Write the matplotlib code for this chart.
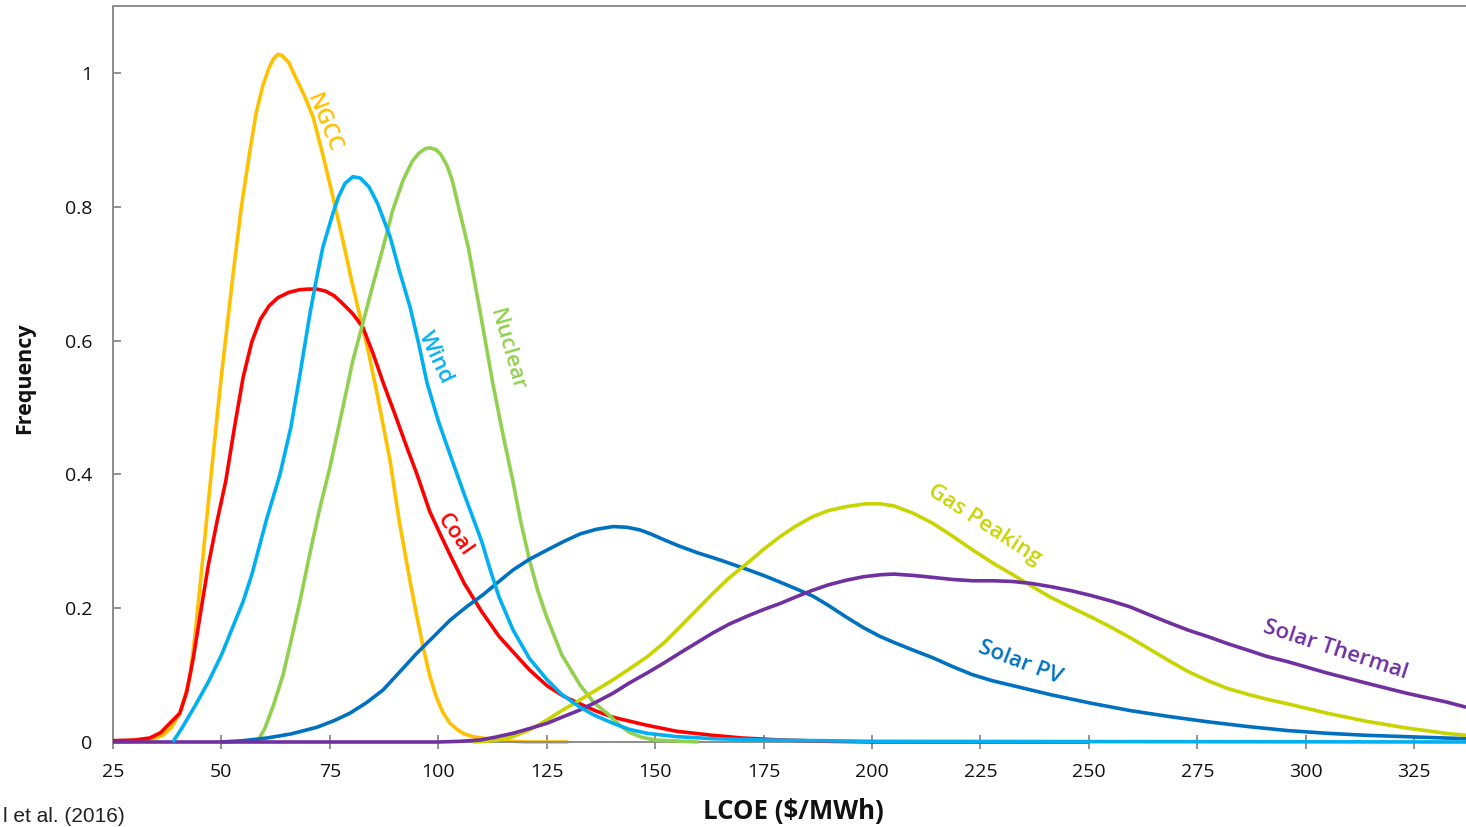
import matplotlib
matplotlib.use("Agg")
import matplotlib.pyplot as plt

# ---------------- data ----------------
ngcc_x = [25, 30, 34, 36.5, 38.5, 40.4, 41.6, 42.8, 44, 45.1, 47.4, 49.7, 52.7, 54.6, 56.6, 58, 59.5,
          61, 62, 63, 64, 65.5, 67, 69, 71.1, 73.5, 75.7, 78, 80, 82, 84, 85.9, 88.9, 91, 93.5, 95,
          96.5, 98, 99.5, 101, 102.7, 104.5, 106, 108, 110, 115, 120, 130]
ngcc_y = [0.0, 0.001, 0.004, 0.010, 0.022, 0.043, 0.068, 0.10, 0.165, 0.235, 0.385, 0.53, 0.70, 0.80,
          0.885, 0.94, 0.98, 1.008, 1.021, 1.028, 1.026, 1.016, 0.995, 0.968, 0.935, 0.875, 0.815,
          0.75, 0.69, 0.635, 0.58, 0.52, 0.42, 0.33, 0.24, 0.19, 0.142, 0.100, 0.068, 0.045, 0.028,
          0.018, 0.012, 0.008, 0.006, 0.002, 0.0, 0.0]

coal_x = [25, 30, 33.5, 36, 38.1, 40.4, 42, 43.5, 45.1, 47, 49, 51, 53, 55, 57, 59, 61, 63, 65.5, 68,
          70, 72, 74, 76, 78, 80.3, 82.6, 85, 87.3, 90, 92.5, 95.1, 98, 100.5, 102.7, 106, 110, 114,
          117.2, 121, 125.1, 129, 132.7, 136.5, 140.3, 148.1, 155, 163.3, 170, 178.8, 190, 200, 250]
coal_y = [0.002, 0.003, 0.006, 0.014, 0.028, 0.043, 0.075, 0.125, 0.19, 0.265, 0.33, 0.39, 0.47, 0.545,
          0.598, 0.632, 0.652, 0.664, 0.672, 0.676, 0.677, 0.677, 0.674, 0.667, 0.655, 0.64, 0.62, 0.58,
          0.537, 0.49, 0.445, 0.40, 0.345, 0.31, 0.28, 0.237, 0.195, 0.158, 0.135, 0.108, 0.084, 0.068,
          0.057, 0.046, 0.037, 0.025, 0.016, 0.010, 0.006, 0.003, 0.001, 0.0, 0.0]

wind_x = [38.8, 41, 44, 47, 50, 53, 55, 57, 60.5, 63.5, 66, 68, 70.4, 72, 73.4, 75.7, 77, 78.5, 80.3,
          82, 84, 86, 88.9, 91, 93.5, 95.5, 97.4, 100, 102.7, 106, 110, 112, 114, 117.2, 121, 125.1,
          128.5, 132.7, 136, 140.3, 144, 148.1, 155, 163.3, 175, 200, 337]
wind_y = [0.0, 0.022, 0.055, 0.09, 0.13, 0.178, 0.21, 0.25, 0.335, 0.40, 0.47, 0.545, 0.64, 0.695, 0.74,
          0.79, 0.815, 0.835, 0.845, 0.843, 0.83, 0.805, 0.755, 0.705, 0.65, 0.595, 0.537, 0.48, 0.43,
          0.37, 0.30, 0.257, 0.217, 0.168, 0.125, 0.093, 0.071, 0.052, 0.04, 0.028, 0.019, 0.013,
          0.008, 0.005, 0.003, 0.001, 0.0]

nuclear_x = [58.2, 60, 62, 64.2, 66, 68.1, 70.5, 72.7, 75, 78, 80.3, 82.6, 85, 87.3, 89.5, 91.9, 94,
             95.5, 97, 98.1, 99.3, 100.5, 102, 103.2, 104.3, 106.9, 109.6, 112.6, 114.9, 117.2, 119,
             121.1, 123, 125.1, 128.5, 132.7, 136, 138.9, 142, 144.2, 147, 150, 160]
nuclear_y = [0.0, 0.02, 0.055, 0.10, 0.15, 0.21, 0.285, 0.35, 0.41, 0.50, 0.57, 0.626, 0.685, 0.74,
             0.795, 0.84, 0.868, 0.88, 0.887, 0.888, 0.886, 0.879, 0.862, 0.84, 0.81, 0.74, 0.645,
             0.535, 0.46, 0.39, 0.33, 0.27, 0.225, 0.185, 0.13, 0.085, 0.058, 0.043, 0.024, 0.014,
             0.007, 0.003, 0.0]

pv_x = [50, 55, 60.5, 66, 72, 76, 79.6, 83.5, 87.3, 91, 95.1, 99, 102.7, 106.5, 110.3, 114, 117.2,
        121, 125.1, 129, 132.7, 136.5, 140.3, 143.5, 146.5, 149, 151.8, 155.5, 159.7, 165, 171.2, 175,
        178.8, 182.5, 186.4, 190, 194, 198, 201.8, 205, 210, 214, 218.5, 223, 227.5, 232, 236.5, 241,
        250.5, 259.5, 268.6, 277.7, 286.8, 296, 305, 314, 323, 332, 337]
pv_y = [0.0, 0.002, 0.006, 0.012, 0.022, 0.032, 0.043, 0.059, 0.078, 0.104, 0.133, 0.158, 0.182, 0.202,
        0.22, 0.24, 0.257, 0.273, 0.287, 0.300, 0.311, 0.318, 0.322, 0.321, 0.317, 0.311, 0.303, 0.293,
        0.283, 0.272, 0.258, 0.249, 0.239, 0.229, 0.218, 0.204, 0.187, 0.171, 0.158, 0.149, 0.136,
        0.126, 0.113, 0.101, 0.092, 0.085, 0.078, 0.071, 0.058, 0.047, 0.038, 0.030, 0.023, 0.017,
        0.013, 0.010, 0.008, 0.006, 0.005]

gas_x = [108, 111, 114, 117.2, 121, 125.1, 128.5, 132.7, 136.5, 140.3, 144, 148.1, 152, 155.7, 159.5,
         163.3, 167, 171.2, 175, 178.8, 182.5, 186.4, 190, 194.2, 198.5, 202, 205, 209.5, 214, 218.5,
         223, 228, 232.5, 236.8, 241, 246.3, 250.5, 255, 259.5, 264, 268.6, 273, 277.7, 282, 286.8,
         291, 295.9, 305, 314, 323.2, 332.3, 337]
gas_y = [0.0, 0.001, 0.003, 0.008, 0.018, 0.033, 0.047, 0.063, 0.078, 0.093, 0.109, 0.127, 0.148,
         0.172, 0.197, 0.222, 0.245, 0.267, 0.288, 0.307, 0.323, 0.337, 0.346, 0.352, 0.356, 0.356,
         0.353, 0.342, 0.327, 0.308, 0.288, 0.267, 0.25, 0.233, 0.217, 0.2, 0.187, 0.172, 0.156,
         0.139, 0.121, 0.105, 0.091, 0.080, 0.071, 0.064, 0.057, 0.043, 0.031, 0.021, 0.013, 0.010]

thermal_x = [25, 100, 105, 109.6, 113, 117.2, 121, 125.1, 128.5, 132.7, 136.5, 140.3, 144, 148.1, 152,
             155.7, 159.5, 163.3, 167, 171.2, 175, 178.8, 182.5, 186.4, 190, 194.2, 198, 202, 205,
             209.5, 214.1, 218.5, 223.2, 228, 232.3, 236.8, 241.4, 246, 250.5, 255, 259.5, 264, 268.6,
             273, 277.7, 282, 286.8, 291, 295.9, 305, 314, 323.2, 332.3, 337]
thermal_y = [0.0, 0.0, 0.001, 0.003, 0.007, 0.013, 0.02, 0.028, 0.037, 0.048, 0.06, 0.073, 0.088,
             0.103, 0.118, 0.133, 0.148, 0.163, 0.176, 0.188, 0.198, 0.207, 0.217, 0.227, 0.235,
             0.242, 0.247, 0.25, 0.251, 0.249, 0.246, 0.243, 0.241, 0.241, 0.240, 0.237, 0.232,
             0.226, 0.219, 0.211, 0.202, 0.19, 0.178, 0.167, 0.157, 0.147, 0.137, 0.128, 0.12, 0.103,
             0.088, 0.073, 0.060, 0.052]

x_ticks = [25, 50, 75, 100, 125, 150, 175, 200, 225, 250, 275, 300, 325]
y_ticks = [0, 0.2, 0.4, 0.6, 0.8, 1.0]
y_tick_labels = ["0", "0.2", "0.4", "0.6", "0.8", "1"]

# ---------------- figure ----------------
W, H = 1466, 827
fig = plt.figure(figsize=(W / 100, H / 100), dpi=100)
ax = fig.add_axes([113 / W, 85 / H, 1 - 113 / W, (742 - 6) / H])

FONT = "Open Sans"
lw = 2.6

series = [
    (ngcc_x, ngcc_y, "#FFC000", 2),
    (coal_x, coal_y, "#FF0000", 3),
    (nuclear_x, nuclear_y, "#92D050", 4),
    (pv_x, pv_y, "#0070C0", 5),
    (gas_x, gas_y, "#C8D400", 6),
    (thermal_x, thermal_y, "#7030A0", 7),
    (wind_x, wind_y, "#00B0F0", 8),
]
for xs, ys, c, z in series:
    ax.plot(xs, ys, color=c, lw=lw, zorder=z, clip_on=False,
            solid_capstyle="butt", solid_joinstyle="round")

ax.set_xlim(25, 25 + (W - 113) / 4.337)
ax.set_ylim(0, (742 - 6) / 669)

ax.set_xticks(x_ticks)
ax.set_xticklabels([str(t) for t in x_ticks], fontfamily=FONT, fontsize=14, color="#111111")
ax.set_yticks(y_ticks)
ax.set_yticklabels(y_tick_labels, fontfamily=FONT, fontsize=14, color="#111111")
ax.tick_params(axis="x", direction="inout", length=10, width=1.2, color="#808080", pad=10)
ax.tick_params(axis="y", direction="in", length=6, width=1.2, color="#808080", pad=15)

for s in ["left", "top", "bottom"]:
    ax.spines[s].set_color("#8c8c8c")
    ax.spines[s].set_linewidth(1.4)
ax.spines["right"].set_visible(False)

# curve labels
lab = dict(fontfamily=FONT, fontweight="semibold", fontsize=16, ha="center", va="center",
           rotation_mode="anchor")
ax.text(73.6, 0.925, "NGCC", color="#FFC000", rotation=-68, **lab)
ax.text(99.4, 0.575, "Wind", color="#00B0F0", rotation=-65, **lab)
ax.text(115.8, 0.586, "Nuclear", color="#92D050", rotation=-74, **lab)
ax.text(103.8, 0.31, "Coal", color="#FF0000", rotation=-55, **lab)
ax.text(226.0, 0.324, "Gas Peaking", color="#C8D400", rotation=-33, **lab)
ax.text(234.1, 0.118, "Solar PV", color="#0070C0", rotation=-21, **lab)
ax.text(306.8, 0.138, "Solar Thermal", color="#7030A0", rotation=-18, **lab)

fig.text(25 / W, (H - 378) / H, "Frequency", rotation=90, ha="center", va="center",
         fontfamily=FONT, fontweight="bold", fontsize=15.5, color="#111111")
fig.text(793 / W, (H - 812) / H, "LCOE ($/MWh)", ha="center", va="center",
         fontfamily=FONT, fontweight="bold", fontsize=18.5, color="#111111")
fig.text(3 / W, 5 / H, "l et al. (2016)", ha="left", va="baseline",
         fontfamily="Liberation Sans", fontsize=15, color="#222222")

fig.savefig("out.png", dpi=100)
